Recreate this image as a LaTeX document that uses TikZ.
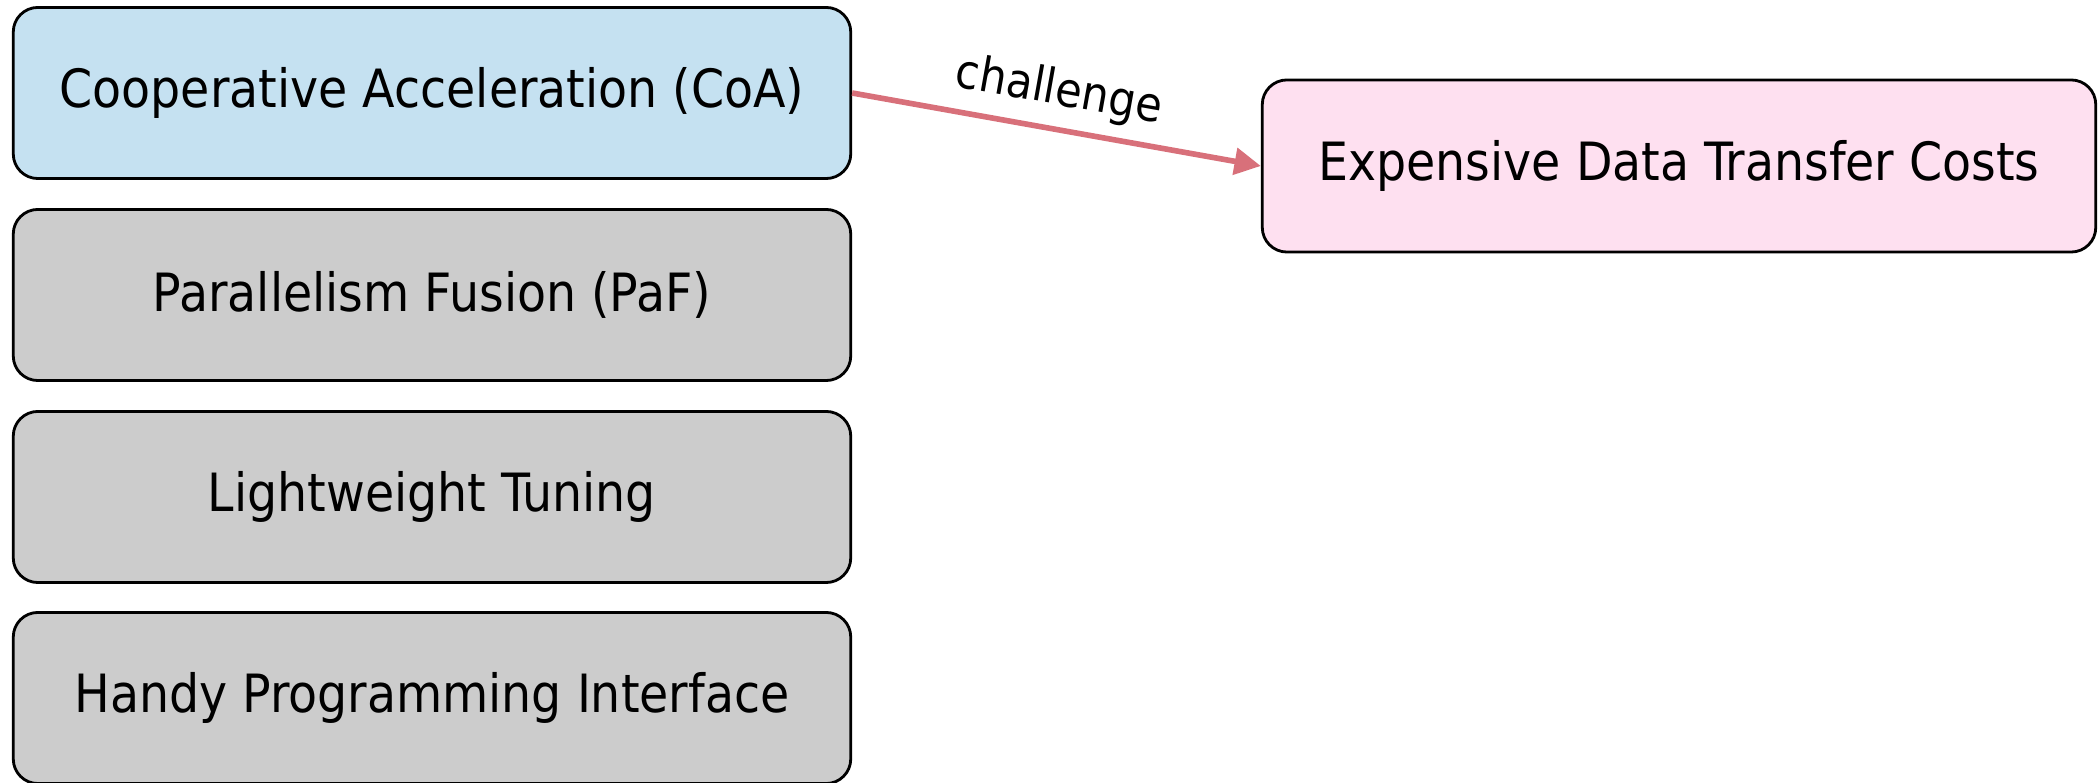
\documentclass[tikz,border=0pt]{standalone}
\usepackage{fontspec}
\setmainfont{DejaVu Sans Condensed}
\usetikzlibrary{arrows.meta}
\definecolor{coablue}{HTML}{C5E1F1}
\definecolor{boxgray}{HTML}{CCCCCC}
\definecolor{boxpink}{HTML}{FEE0F0}
\definecolor{arrowred}{HTML}{D8707A}
\begin{document}
\begin{tikzpicture}[x=0.01cm,y=-0.01cm,
  box/.style={draw=black,line width=0.8pt,rounded corners=7pt,minimum width=8.37cm,minimum height=1.71cm,inner sep=0pt,font=\fontsize{15}{18}\selectfont},
  chall/.style={draw=arrowred,line width=1.6pt,-{Triangle[length=7.5pt,width=7.5pt]}}]
\useasboundingbox (0,0) rectangle (2098,783);
\node[box,fill=coablue] (coa) at (432,93) {Cooperative Acceleration (CoA)};
\node[box,fill=boxgray] (paf) at (432,295) {Parallelism Fusion (PaF)};
\node[box,fill=boxgray] (lt) at (432,497) {Lightweight Tuning};
\node[box,fill=boxgray] (hpi) at (432,698) {Handy Programming Interface};
\node[box,fill=boxpink,minimum width=8.33cm,minimum height=1.72cm] (exp) at (1679,166) {Expensive Data Transfer Costs};
\draw[chall] (coa.east) -- node[sloped,above,pos=0.49,font=\fontsize{13.6}{16}\selectfont] {challenge} (exp.west);
\end{tikzpicture}
\end{document}
